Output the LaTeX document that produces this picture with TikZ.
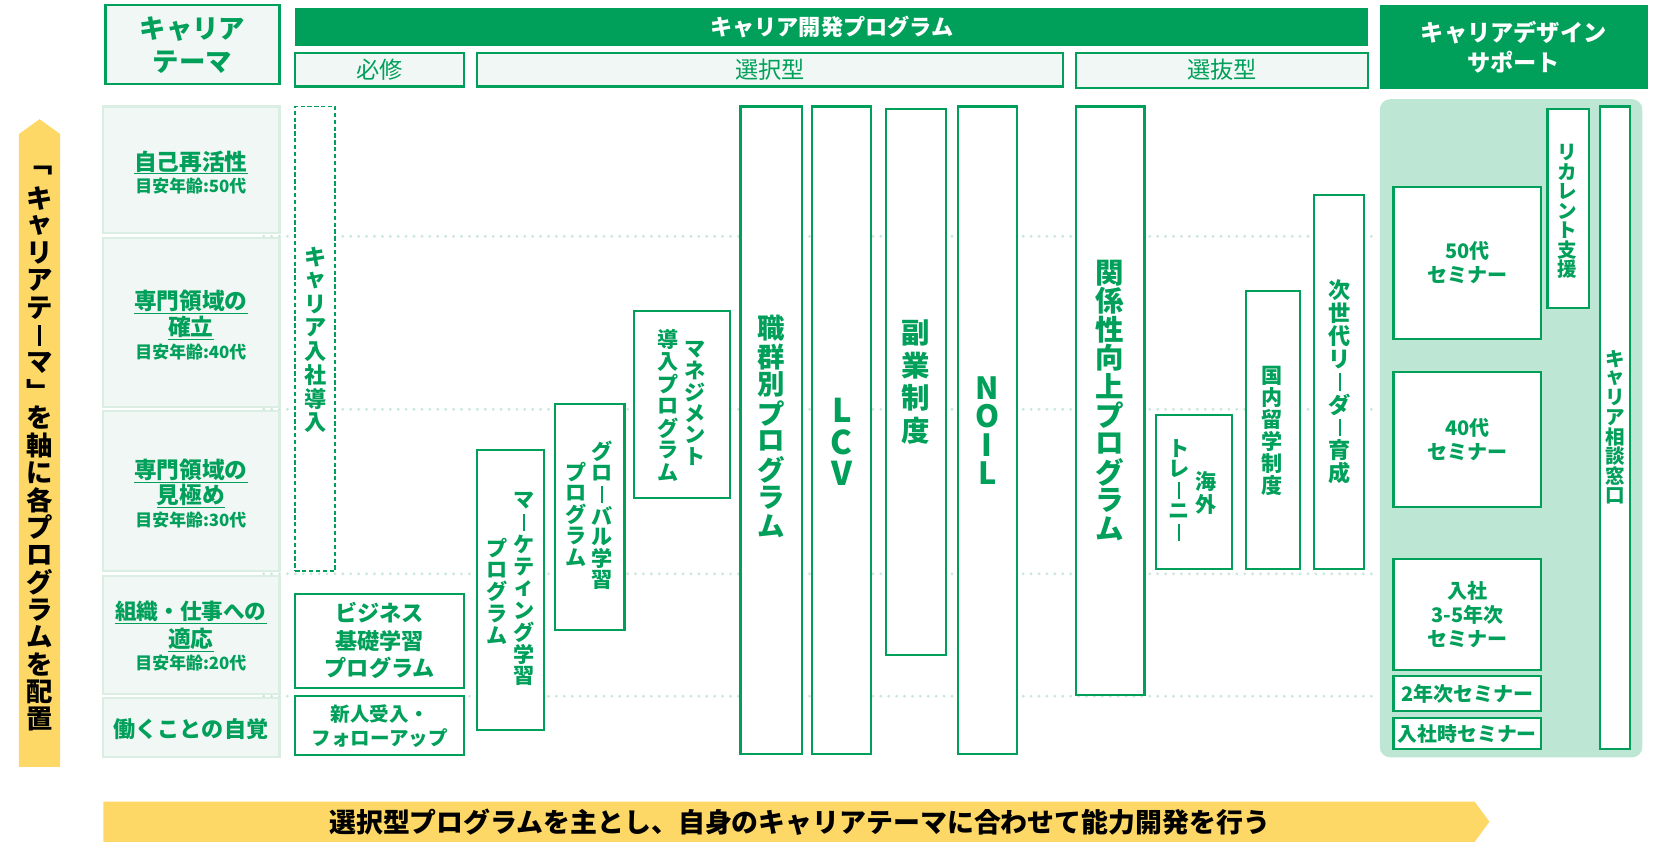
\documentclass[tikz,border=0pt]{standalone}
\usepackage{fontspec}
\usepackage{graphicx}
\setmainfont{Noto Sans CJK JP}
\definecolor{G}{RGB}{0,160,90}
\definecolor{Gl}{RGB}{190,230,212}
\definecolor{Gf}{RGB}{241,247,244}
\definecolor{Gb}{RGB}{218,238,228}
\definecolor{Gd}{RGB}{200,232,216}
\definecolor{Ylw}{RGB}{253,216,102}
\newcommand\fz[2]{\fontsize{#1}{#2}\selectfont}
\ExplSyntaxOn
\cs_new:Npn \vt_char:n #1
  {
    \str_case:nnF {#1}
      {
        {ー}{\rule{.085em}{.8em}}
      }
      {#1}
  }
\NewDocumentCommand \VT { O{1.1} m }
  {
    \vbox:n
      {
        \offinterlineskip
        \tl_map_inline:nn {#2}
          {
            \hbox_to_wd:nn {1.3em}
              {
                \hss
                \vbox_to_ht:nn {#1 em} { \vss \hbox:n { \vt_char:n {##1} } \vss }
                \hss
              }
          }
      }
  }
\ExplSyntaxOff
\newcommand\bx[6][]{\node[anchor=north west, minimum width={(#5-#3)*1pt}, minimum height={(#6-#4)*1pt}, #1] (#2) at (#3,#4) {};}
\begin{document}
\begin{tikzpicture}[x=1pt,y=-1pt,
  every node/.style={inner sep=0pt, outer sep=0pt},
  prog/.style={draw=G, line width=2pt, fill=white},
  dprog/.style={draw=G, line width=1.8pt, dash pattern=on 4pt off 2.5pt, fill=white},
  theme/.style={draw=Gb, line width=2pt, fill=Gf},
  subbox/.style={draw=G, line width=2pt, fill=Gf},
  headbox/.style={fill=G},
  gt/.style={text=G},
  guide/.style={draw=Gd, line width=3pt, line cap=round, dash pattern=on 0pt off 7.5pt}]
\useasboundingbox (0,0) rectangle (1568,812);
% guides
\draw[guide] (250,224) -- (1303,224);
\draw[guide] (250,388) -- (1303,388);
\draw[guide] (250,544) -- (1303,544);
\draw[guide] (250,660) -- (1303,660);
% header
\bx[subbox]{hth}{100}{5}{265}{80}
\bx[headbox]{hdev}{280}{8}{1297}{44}
\bx[subbox]{hreq}{280}{50}{440}{82}
\bx[subbox]{hsel}{452}{50}{1008}{82}
\bx[subbox]{hpick}{1020}{50}{1297}{83}
\bx[headbox]{hcds}{1308}{5}{1562}{84}
\node[gt, font=\bfseries\fz{25}{31}, align=center] (hth-t) at (hth.center) {キャリア\\テーマ};
\node[text=white, font=\bfseries\fz{21}{24}] (hdev-t) at (hdev.center) {キャリア開発プログラム};
\node[gt, font=\fz{22}{24}] (hreq-t) at (hreq.center) {必修};
\node[gt, font=\fz{22}{24}] (hsel-t) at (hsel.center) {選択型};
\node[gt, font=\fz{22}{24}] (hpick-t) at (hpick.center) {選抜型};
\node[text=white, font=\bfseries\fz{22}{28}, align=center] (hcds-t) at (hcds.center) {キャリアデザイン\\サポート};
% left arrow
\fill[Ylw] (18,727) -- (18,127) -- (37.5,113) -- (57,127) -- (57,727) -- cycle;
\node[font=\bfseries\fz{25}{25}] (larrow-t) at (37.5,422) {\VT[1.04]{﹁キャリアテーマ﹂を軸に各プログラムを配置}};
% bottom banner
\fill[Ylw] (98,760) -- (1398,760) -- (1412,779) -- (1398,798) -- (98,798) -- cycle;
\node[font=\bfseries\fz{25.5}{26}] (banner-t) at (758,779) {選択型プログラムを主とし、自身のキャリアテーマに合わせて能力開発を行う};
% theme boxes
\bx[theme]{t50}{98}{101}{265}{221}
\bx[theme]{t40}{98}{226}{265}{386}
\bx[theme]{t30}{98}{390}{265}{541}
\bx[theme]{t20}{98}{546}{265}{658}
\bx[theme]{t0}{98}{662}{265}{718}
\node[gt, font=\bfseries\fz{21.5}{25}] (t50a) at (181,154) {\underline{自己再活性}};
\node[gt, font=\bfseries\fz{16}{18}] (t50b) at (181,176) {目安年齢:50代};
\node[gt, font=\bfseries\fz{21.5}{25}] (t40a) at (181,286) {\underline{専門領域の}};
\node[gt, font=\bfseries\fz{21.5}{25}] (t40b) at (181,311) {\underline{確立}};
\node[gt, font=\bfseries\fz{16}{18}] (t40c) at (181,334) {目安年齢:40代};
\node[gt, font=\bfseries\fz{21.5}{25}] (t30a) at (181,446) {\underline{専門領域の}};
\node[gt, font=\bfseries\fz{21.5}{25}] (t30b) at (181,470) {\underline{見極め}};
\node[gt, font=\bfseries\fz{16}{18}] (t30c) at (181,493) {目安年齢:30代};
\node[gt, font=\bfseries\fz{20.5}{25}] (t20a) at (181,581) {\underline{組織・仕事への}};
\node[gt, font=\bfseries\fz{21.5}{25}] (t20b) at (181,607) {\underline{適応}};
\node[gt, font=\bfseries\fz{16}{18}] (t20c) at (181,629) {目安年齢:20代};
\node[gt, font=\bfseries\fz{21}{25}] (t0a) at (181,691) {働くことの自覚};
% program boxes
\bx[dprog]{kn}{280}{101}{318}{541}
\bx[prog]{biz}{280}{563}{440}{652}
\bx[prog]{new}{280}{660}{440}{716}
\bx[prog]{mkt}{452}{427}{516}{692}
\bx[prog]{glb}{526}{383}{592}{597}
\bx[prog]{mgt}{601}{295}{692}{472}
\bx[prog]{job}{702}{101}{760}{715}
\bx[prog]{lcv}{770}{101}{826}{715}
\bx[prog]{side}{840}{103}{897}{621}
\bx[prog]{noil}{908}{101}{964}{715}
\bx[prog]{rel}{1020}{101}{1085}{659}
\bx[prog]{ovs}{1096}{393}{1168}{539}
\bx[prog]{dom}{1181}{276}{1232}{539}
\bx[prog]{nxt}{1246}{185}{1293}{539}
\node[gt, font=\bfseries\fz{21}{21}] (kn-t) at (299,322) {\VT[1.07]{キャリア入社導入}};
\node[gt, font=\bfseries\fz{21}{26}, align=center] (biz-t) at (biz.center) {ビジネス\\基礎学習\\プログラム};
\node[gt, font=\bfseries\fz{18.5}{23}, align=center] (new-t) at (new.center) {新人受入・\\フォローアップ};
\node[gt, font=\bfseries\fz{20}{20}] (mkt-a) at (497,558) {\VT[1.04]{マーケティング学習}};
\node[gt, font=\bfseries\fz{20}{20}] (mkt-b) at (471,561) {\VT[1.04]{プログラム}};
\node[gt, font=\bfseries\fz{20}{20}] (glb-a) at (571,489) {\VT[1.02]{グローバル学習}};
\node[gt, font=\bfseries\fz{20}{20}] (glb-b) at (546,488) {\VT[1.02]{プログラム}};
\node[gt, font=\bfseries\fz{20}{20}] (mgt-a) at (659,382) {\VT[1.02]{マネジメント}};
\node[gt, font=\bfseries\fz{20}{20}] (mgt-b) at (633,385) {\VT[1.05]{導入プログラム}};
\node[gt, font=\bfseries\fz{26}{26}] (job-t) at (731,405) {\VT[1.03]{職群別プログラム}};
\node[gt, font=\bfseries\fz{31}{31}] (lcv-t) at (798,419) {\VT[0.97]{LCV}};
\node[gt, font=\bfseries\fz{27}{27}] (side-t) at (868,362) {\VT[1.15]{副業制度}};
\node[gt, font=\bfseries\fz{29}{29}] (noil-t) at (936,408) {\VT[0.93]{NOIL}};
\node[gt, font=\bfseries\fz{27}{27}] (rel-t) at (1052,380) {\VT[1.0]{関係性向上プログラム}};
\node[gt, font=\bfseries\fz{20}{20}] (ovs-a) at (1143,467) {\VT[1.1]{海外}};
\node[gt, font=\bfseries\fz{20}{20}] (ovs-b) at (1118,465) {\VT[1.0]{トレーニー}};
\node[gt, font=\bfseries\fz{20}{20}] (dom-t) at (1206,408) {\VT[1.04]{国内留学制度}};
\node[gt, font=\bfseries\fz{21}{21}] (nxt-t) at (1270,362) {\VT[1.03]{次世代リーダー育成}};
% career design support panel
\bx[fill=Gl, rounded corners=10pt]{panel}{1308}{94}{1557}{718}
\bx[prog]{s50}{1321}{177}{1461}{321}
\bx[prog]{s40}{1321}{353}{1461}{481}
\bx[prog]{s35}{1321}{530}{1461}{635}
\bx[prog]{s2}{1321}{641}{1461}{674}
\bx[prog]{s1}{1321}{681}{1461}{710}
\bx[prog]{rec}{1467}{103}{1506}{292}
\bx[prog]{cons}{1517}{101}{1545}{710}
\node[gt, font=\bfseries\fz{19}{23}, align=center] (s50-t) at (s50.center) {50代\\セミナー};
\node[gt, font=\bfseries\fz{19}{23}, align=center] (s40-t) at (s40.center) {40代\\セミナー};
\node[gt, font=\bfseries\fz{19}{23}, align=center] (s35-t) at (s35.center) {入社\\3-5年次\\セミナー};
\node[gt, font=\bfseries\fz{19}{20}] (s2-t) at (s2.center) {2年次セミナー};
\node[gt, font=\bfseries\fz{18.8}{20}] (s1-t) at (s1.center) {入社時セミナー};
\node[gt, font=\bfseries\fz{18.5}{18.5}] (rec-t) at (1486,200) {\VT[1.0]{リカレント支援}};
\node[gt, font=\bfseries\fz{18.5}{18.5}] (cons-t) at (1531,405) {\VT[1.0]{キャリア相談窓口}};
\end{tikzpicture}
\end{document}
